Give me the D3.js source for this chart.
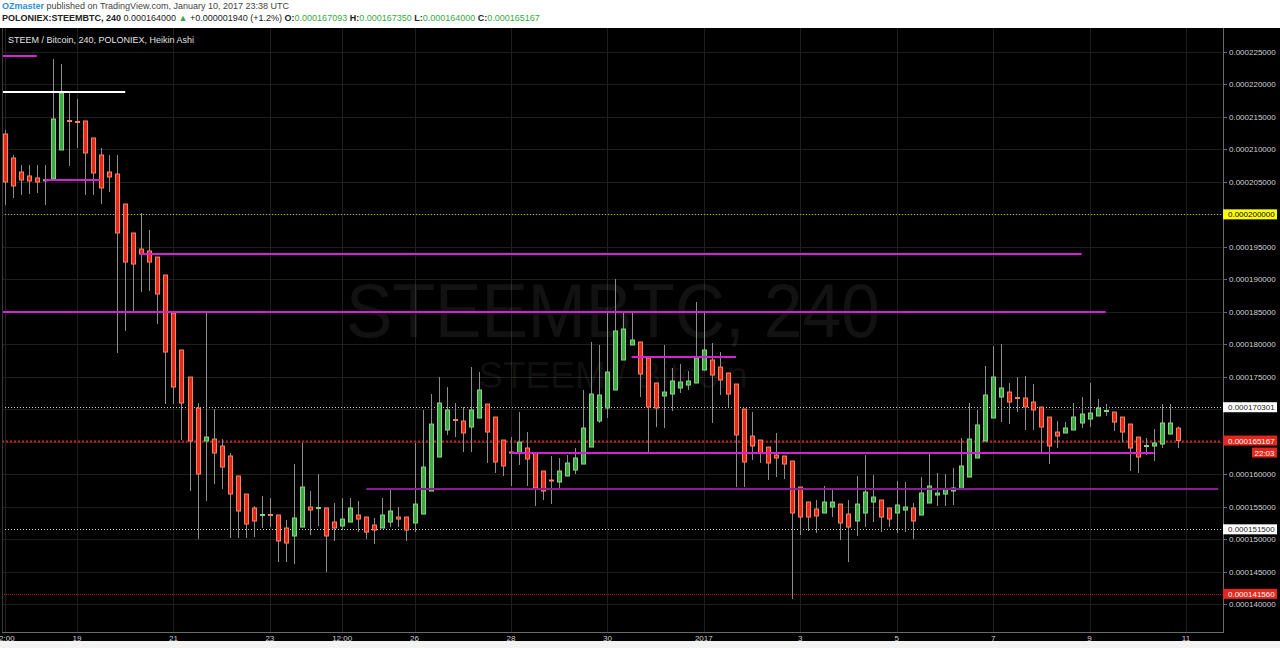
<!DOCTYPE html>
<html><head><meta charset="utf-8">
<script src="https://cdn.jsdelivr.net/npm/d3@7"></script>
<style>html,body{margin:0;padding:0;background:#f3f3f3;overflow:hidden}svg{display:block;font-family:"Liberation Sans",Arial,sans-serif}</style>
</head><body><svg id="c" width="1280" height="648"></svg>
<script>
// ---- data (prices in satoshi, 1e-8 BTC), 4h Heikin Ashi candles from 2016-12-17 12:00 UTC ----
const startTime = Date.UTC(2016, 11, 17, 12);
const candleHours = 4;
const opens = [21237,20868,20652,20591,20560,20521,20544,20991,21445,21430,
21438,21176,20914,20652,20621,20159,19713,19466,19436,19343,
19066,18481,17911,17495,17018,16510,16540,16433,16279,15971,
15693,15478,15362,15378,15370,15170,15047,15185,15493,15470,
15478,15262,15201,15262,15370,15339,15216,15170,15262,15339,
15339,15247,15385,15740,16263,16679,16841,16818,16725,16864,
17079,16879,16525,16340,16325,16402,16325,16048,15909,15878,
15971,16063,16155,16417,16818,17018,17295,17757,17988,18034,
17788,17403,17203,17233,17326,17372,17403,17603,17757,17649,
17557,17387,17002,16587,16525,16417,16294,16279,16202,15801,
15570,15462,15401,15493,15539,15385,15278,15401,15570,15601,
15478,15401,15447,15478,15370,15555,15678,15693,15740,15770,
15955,16248,16510,16864,17187,17264,17180,17172,17110,17033,
16879,16648,16633,16679,16787,16848,16895,16964,16956,16879,
16771,16571,16425,16433,16463,16617,16709];
const highs = [21299,20914,20760,20760,20760,20760,22392,22315,21869,21776,
21438,21176,21022,20914,20914,20159,19713,20021,19759,19343,
19066,18481,17911,17495,17095,18481,17002,16540,16325,15971,
15693,15509,15663,15632,15370,15293,16155,16479,15740,16001,
15478,15555,15632,15632,15586,15339,15324,15632,15786,15493,
15339,16479,16987,17233,17495,17341,17095,17033,17649,17572,
17079,16879,16525,16571,16956,16648,16325,16048,16279,16248,
16294,16402,17295,18034,17988,18496,19004,18496,18481,18034,
17788,17403,17988,17634,17695,17588,18650,18481,18019,17880,
17557,17387,17002,16956,16525,16417,16633,16279,16202,15801,
15570,15601,15817,15786,15539,15601,15971,16294,15986,15601,
15478,15894,15878,15555,15955,16325,16017,16001,16094,16556,
17095,16987,17665,17973,18003,17403,17495,17511,17387,17033,
16879,16818,16802,17095,17187,17403,17156,17079,16956,16879,
16771,16571,16556,16694,17079,17079,16735];
const lows = [20144,20252,20298,20313,20329,20144,20544,20991,20745,21022,
20298,20298,20159,20344,17865,18204,18512,18804,18820,18311,
17079,17079,16525,15740,15000,15586,15847,15770,15016,15016,
15016,15031,15170,15185,14646,14646,14615,15185,15062,15201,
14492,14970,15139,15262,15108,15000,14923,15170,15185,15185,
14970,15108,15385,15740,16263,16602,16571,16340,16340,16864,
16171,16017,15971,15817,16140,15817,15509,15601,15539,15755,
15971,16001,16155,16417,16787,16864,17295,17757,17988,17187,
16325,16725,16710,16972,17249,17295,17403,17603,16787,17218,
17033,15801,15801,16217,16171,15909,15955,15924,14076,15062,
15124,15093,15401,15339,14985,14646,15047,15185,15262,15108,
15185,15093,15108,15000,15370,15555,15509,15509,15524,15770,
15955,16248,16510,16864,16802,16771,16956,16679,16679,16340,
16155,16402,16633,16679,16710,16725,16895,16895,16664,16494,
16048,16017,16294,16202,16402,16617,16400];
const closes = [20498,20437,20529,20514,20498,20532,21468,21869,21430,21415,
20945,20637,20406,20575,19713,19266,19235,19389,19266,18773,
17880,17341,17095,16510,16001,16571,16325,16109,15693,15432,
15231,15278,15378,15362,14970,14939,15324,15801,15447,15486,
15047,15170,15308,15478,15308,15108,15139,15370,15432,15308,
15139,15539,16109,16771,17095,16987,16825,16633,16987,17295,
16648,16186,16125,16325,16494,16232,15786,15740,15894,16048,
16171,16248,16710,17233,17218,17572,18204,18234,18065,17541,
17033,17018,17264,17434,17418,17434,17788,17911,17526,17449,
17233,16602,16186,16433,16325,16171,16248,16155,15401,15339,
15339,15355,15570,15570,15247,15185,15539,15724,15647,15339,
15308,15524,15493,15278,15709,15817,15709,15770,15786,16125,
16540,16756,17218,17495,17326,17110,17164,17033,16987,16725,
16433,16587,16710,16879,16925,16941,17018,16979,16802,16648,
16402,16263,16440,16479,16787,16787,16517];

// price axis ticks (satoshi) and time axis ticks
const priceTicks = [14000,14500,15000,15500,16000,16500,17000,17500,18000,18500,19000,19500,20000,20500,21000,21500,22000,22500];
const timeTickDates = ["2016-12-17T12:00Z","2016-12-19T00:00Z","2016-12-21T00:00Z","2016-12-23T00:00Z","2016-12-24T12:00Z","2016-12-26T00:00Z","2016-12-28T00:00Z","2016-12-30T00:00Z","2017-01-01T00:00Z","2017-01-03T00:00Z","2017-01-05T00:00Z","2017-01-07T00:00Z","2017-01-09T00:00Z","2017-01-11T00:00Z"];
const timeTickLabels = ["12:00","19","21","23","12:00","26","28","30","2017","3","5","7","9","11"];

// drawn trend/level lines: level (satoshi), start, end (null = chart edge)
const drawLevels = [22439, 21884, 20529, 19382, 18489, 17803, 16325, 15778];
const drawStarts = [null, null, "2016-12-18T08:00Z", "2016-12-20T07:24Z", null, "2016-12-30T12:00Z", "2016-12-28T00:00Z", "2016-12-25T00:00Z"];
const drawEnds = ["2016-12-18T04:00Z", "2016-12-20T00:00Z", "2016-12-19T11:30Z", "2017-01-08T20:00Z", "2017-01-09T08:00Z", "2017-01-01T16:00Z", "2017-01-10T08:00Z", "2017-01-11T16:00Z"];
const drawColors = ["#d81fd8", "#ffffff", "#d81fd8", "#d81fd8", "#d81fd8", "#d81fd8", "#d81fd8", "#8e1c96"];

// horizontal price marker lines (satoshi) with axis badges
const markerValues = [20000, 17030.1, 16516.7, 15150, 14156];
const markerKinds = ["yellow", "white", "red", "white", "red2"];

// ---- drawing ----
const svg = d3.select("#c");
const W = 1280, H = 648;
const P = {left: 2, right: 1222, top: 28, bottom: 632};
const x = d3.scaleUtc().domain([new Date("2016-12-19T00:00Z"), new Date("2017-01-11T00:00Z")]).range([77, 1186]);
const y = d3.scaleLinear().domain([14000, 22500]).range([604, 52]);
const fmt = v => (v / 1e8).toFixed(9);

svg.append("rect").attr("x", 0).attr("y", 0).attr("width", W).attr("height", H).attr("fill", "#f3f3f3");
svg.append("rect").attr("x", 0).attr("y", 0).attr("width", W).attr("height", 28).attr("fill", "#ffffff");
svg.append("rect").attr("x", 0).attr("y", 28).attr("width", W).attr("height", 613).attr("fill", "#000000");

svg.append("clipPath").attr("id", "clip").append("rect")
  .attr("x", P.left).attr("y", P.top).attr("width", P.right - P.left).attr("height", P.bottom - P.top);

// grid
const grid = svg.append("g").attr("clip-path", "url(#clip)");
grid.selectAll("line.h").data(priceTicks).join("line")
  .attr("x1", P.left).attr("x2", P.right)
  .attr("y1", d => Math.round(y(d)) + 0.5).attr("y2", d => Math.round(y(d)) + 0.5)
  .attr("stroke", "#1f1f1f").attr("stroke-width", 1);
grid.selectAll("line.v").data(timeTickDates).join("line")
  .attr("x1", d => Math.round(x(new Date(d))) + 0.5).attr("x2", d => Math.round(x(new Date(d))) + 0.5)
  .attr("y1", P.top).attr("y2", P.bottom)
  .attr("stroke", "#1f1f1f").attr("stroke-width", 1);

// watermark
grid.append("text").attr("x", 613).attr("y", 337).attr("text-anchor", "middle")
  .attr("font-size", 76).attr("textLength", 534).attr("lengthAdjust", "spacingAndGlyphs")
  .attr("fill", "#ffffff").attr("fill-opacity", 0.07).text("STEEMBTC, 240");
grid.append("text").attr("x", 613).attr("y", 388).attr("text-anchor", "middle")
  .attr("font-size", 37).attr("fill", "#ffffff").attr("fill-opacity", 0.07).text("STEEM / Bitcoin");

// marker lines (under candles)
const markerStyle = {
  yellow: {stroke: "#b8b800", w: 1, dash: "1,2", bg: "#ffff00", fg: "#000"},
  white: {stroke: "#d0d0d0", w: 1, dash: "1,2", bg: "#ffffff", fg: "#222"},
  red: {stroke: "#d42020", w: 2, dash: "2,2", bg: "#e5261d", fg: "#fff"},
  red2: {stroke: "#b01818", w: 1, dash: "1,1", bg: "#e5261d", fg: "#fff"}
};
const markers = markerValues.map((v, i) => ({v, k: markerKinds[i]}));
grid.selectAll("line.m").data(markers).join("line")
  .attr("x1", P.left).attr("x2", P.right)
  .attr("y1", d => Math.round(y(d.v)) + 0.5).attr("y2", d => Math.round(y(d.v)) + 0.5)
  .attr("stroke", d => markerStyle[d.k].stroke).attr("stroke-width", d => markerStyle[d.k].w)
  .attr("stroke-dasharray", d => markerStyle[d.k].dash);

// candles
const candles = opens.map((o, i) => ({
  t: new Date(startTime + i * candleHours * 3600e3), o, h: highs[i], l: lows[i], c: closes[i]
}));
const cg = grid.append("g");
cg.selectAll("line.w").data(candles).join("line")
  .attr("x1", d => Math.round(x(d.t)) + 0.5).attr("x2", d => Math.round(x(d.t)) + 0.5)
  .attr("y1", d => y(d.h)).attr("y2", d => y(d.l))
  .attr("stroke", "#8c8c8c").attr("stroke-width", 1);
cg.selectAll("rect.b").data(candles).join("rect")
  .attr("x", d => Math.round(x(d.t)) - 1.5).attr("width", 4)
  .attr("y", d => Math.min(y(d.o), y(d.c)))
  .attr("height", d => Math.max(1, Math.abs(y(d.o) - y(d.c))))
  .attr("fill", d => d.c >= d.o ? "#3fa845" : "#e3281c")
  .attr("stroke", d => d.c >= d.o ? "#86d686" : "#f5845f")
  .attr("stroke-width", 1);

// drawn level lines
const draws = drawLevels.map((v, i) => ({
  v, s: drawStarts[i] ? x(new Date(drawStarts[i])) : P.left,
  e: drawEnds[i] ? x(new Date(drawEnds[i])) : P.right, col: drawColors[i]
}));
grid.selectAll("line.d").data(draws).join("line")
  .attr("x1", d => d.s).attr("x2", d => d.e)
  .attr("y1", d => Math.round(y(d.v))).attr("y2", d => Math.round(y(d.v)))
  .attr("stroke", d => d.col).attr("stroke-width", 2);

// legend
svg.append("text").attr("x", 8).attr("y", 43).attr("font-size", 9).attr("fill", "#e0e0e0")
  .text("STEEM / Bitcoin, 240, POLONIEX, Heikin Ashi");

// right axis
svg.append("line").attr("x1", P.right + 1.5).attr("x2", P.right + 1.5).attr("y1", P.top).attr("y2", P.bottom)
  .attr("stroke", "#6a6a6a");
const ya = svg.append("g");
ya.selectAll("line").data(priceTicks).join("line")
  .attr("x1", P.right + 1).attr("x2", P.right + 5)
  .attr("y1", d => Math.round(y(d)) + 0.5).attr("y2", d => Math.round(y(d)) + 0.5)
  .attr("stroke", "#6a6a6a");
ya.selectAll("text").data(priceTicks).join("text")
  .attr("x", 1229).attr("y", d => y(d) + 3).attr("font-size", 8).attr("fill", "#d0d0d0")
  .text(fmt);

// badges
const bg = svg.append("g");
markers.forEach(m => {
  const st = markerStyle[m.k];
  const cy = y(m.v);
  bg.append("rect").attr("x", P.right + 1).attr("y", cy - 5).attr("width", 54).attr("height", 10).attr("fill", st.bg);
  bg.append("text").attr("x", 1228).attr("y", cy + 3).attr("font-size", 8).attr("fill", st.fg).text(fmt(m.v));
  if (m.k === "red") {
    bg.append("rect").attr("x", 1252).attr("y", cy + 7).attr("width", 25).attr("height", 10).attr("fill", st.bg);
    bg.append("text").attr("x", 1264.5).attr("y", cy + 15).attr("text-anchor", "middle").attr("font-size", 8)
      .attr("fill", "#fff").text("22:03");
  }
});

// bottom axis
svg.append("line").attr("x1", P.left).attr("x2", P.right + 2).attr("y1", P.bottom + 0.5).attr("y2", P.bottom + 0.5)
  .attr("stroke", "#6a6a6a");
svg.append("line").attr("x1", P.left + 0.5).attr("x2", P.left + 0.5).attr("y1", P.top).attr("y2", P.bottom)
  .attr("stroke", "#3a3a3a");
const xa = svg.append("g");
xa.selectAll("text").data(timeTickDates).join("text")
  .attr("x", d => x(new Date(d))).attr("y", 641).attr("text-anchor", "middle")
  .attr("font-size", 8).attr("fill", "#d0d0d0")
  .text((d, i) => timeTickLabels[i]);

// header
const h1 = svg.append("text").attr("x", 2).attr("y", 9).attr("font-size", 9).attr("fill", "#444");
h1.append("tspan").attr("fill", "#2a8fd8").attr("font-weight", "bold").text("OZmaster");
h1.append("tspan").text(" published on TradingView.com, January 10, 2017 23:38 UTC");
const h2 = svg.append("text").attr("x", 2).attr("y", 21).attr("font-size", 9).attr("fill", "#222");
h2.append("tspan").attr("font-weight", "bold").text("POLONIEX:STEEMBTC, 240");
h2.append("tspan").text(" 0.000164000 ");
h2.append("tspan").attr("fill", "#3aa845").text("▲");
h2.append("tspan").text(" +0.000001940 (+1.2%) ");
[["O:", opens[opens.length - 1]], ["H:", highs[highs.length - 1]], ["L:", lows[lows.length - 1]], ["C:", closes[closes.length - 1]]]
  .forEach(([k, v]) => {
    h2.append("tspan").attr("font-weight", "bold").text(" " + k);
    h2.append("tspan").attr("fill", "#3aa845").text(fmt(k === "O:" ? 16709.3 : k === "H:" ? 16735 : k === "L:" ? 16400 : 16516.7));
  });
</script></body></html>
